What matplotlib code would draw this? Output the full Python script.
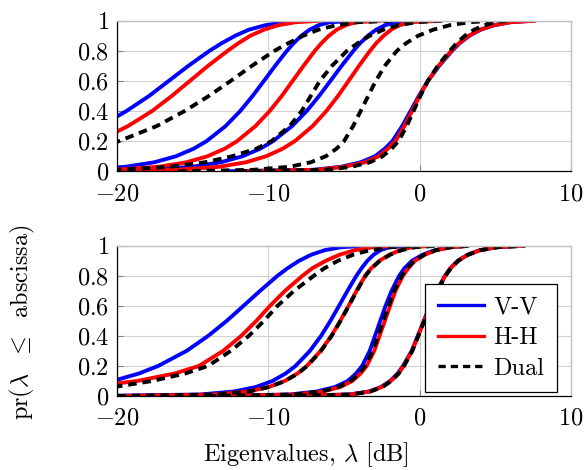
import matplotlib
matplotlib.use("Agg")
import matplotlib.pyplot as plt
from matplotlib.lines import Line2D

plt.rcParams['font.family'] = ['serif']
plt.rcParams['font.serif'] = ['cmr10', 'DejaVu Serif']
plt.rcParams['mathtext.fontset'] = 'cm'
plt.rcParams['axes.formatter.use_mathtext'] = True

# cumulative probability levels (ordinate)
P = [0.0, 0.01, 0.03, 0.06, 0.1, 0.15, 0.2, 0.3, 0.4, 0.5, 0.6, 0.7, 0.8, 0.85, 0.9, 0.94, 0.97, 0.99, 1.0]

# ---- top panel: eigenvalue (dB) reached at each probability level ----
top_vv = [
    [-45, -38.2, -32.9, -29.5, -26.9, -24.9, -23.4, -21.1, -19.4, -17.9, -16.6, -15.3, -13.9, -13.1, -12.2, -11.3, -10.2, -8.9, -7.5],
    [-30, -22.45, -19.46, -17.55, -16.12, -14.95, -14.1, -12.84, -11.87, -11.05, -10.3, -9.56, -8.78, -8.34, -7.82, -7.28, -6.68, -5.95, -4.0],
    [-26, -18.05, -15.06, -13.15, -11.72, -10.55, -9.7, -8.44, -7.47, -6.65, -5.9, -5.16, -4.38, -3.94, -3.42, -2.88, -2.28, -1.55, 0.3],
    [-13, -7.0, -5.2, -3.9, -2.95, -2.3, -1.8, -1.15, -0.6, -0.05, 0.55, 1.3, 2.15, 2.65, 3.3, 4.05, 4.95, 6.0, 7.6],
]
top_hh = [
    [-42, -34.8, -30.0, -26.9, -24.6, -22.7, -21.3, -19.3, -17.7, -16.4, -15.2, -14.0, -12.7, -12.0, -11.2, -10.3, -9.35, -8.2, -6.5],
    [-28, -20.16, -17.27, -15.42, -14.03, -12.9, -12.08, -10.86, -9.92, -9.12, -8.4, -7.68, -6.93, -6.5, -6.0, -5.48, -4.9, -4.19, -2.5],
    [-24, -16.07, -13.27, -11.49, -10.15, -9.06, -8.26, -7.08, -6.17, -5.4, -4.7, -4.01, -3.28, -2.87, -2.38, -1.88, -1.32, -0.63, 1.5],
    [-12, -6.8, -5.0, -3.6, -2.7, -2.1, -1.6, -1.0, -0.5, 0.0, 0.55, 1.25, 2.1, 2.6, 3.25, 4.0, 4.9, 6.0, 7.7],
]
top_dual = [
    [-44, -36.0, -30.2, -26.5, -23.8, -21.5, -19.9, -17.4, -15.55, -13.95, -12.5, -11.1, -9.6, -8.7, -7.7, -6.7, -5.5, -4.1, -1.5],
    [-26, -20.0, -16.5, -14.2, -12.4, -10.8, -9.8, -8.6, -7.8, -7.2, -6.6, -5.8, -4.8, -4.1, -3.3, -2.4, -1.4, -0.2, 1.5],
    [-16, -11.0, -8.6, -7.2, -6.2, -5.5, -5.0, -4.4, -3.9, -3.4, -2.9, -2.3, -1.5, -0.9, -0.1, 0.9, 2.0, 3.3, 5.0],
    [-12, -6.2, -4.5, -3.3, -2.45, -1.85, -1.4, -0.85, -0.4, 0.05, 0.55, 1.2, 2.0, 2.45, 3.0, 3.6, 4.3, 5.0, 5.8],
]

# ---- bottom panel ----
bot_vv = [
    [-40, -29.7, -25.25, -22.4, -20.3, -18.56, -17.3, -15.42, -13.99, -12.76, -11.65, -10.55, -9.4, -8.74, -7.97, -7.17, -6.29, -5.2, -3.5],
    [-22, -14.54, -12.28, -10.83, -9.74, -8.86, -8.21, -7.26, -6.52, -5.9, -5.33, -4.77, -4.18, -3.84, -3.45, -3.04, -2.59, -2.03, -0.3],
    [-14, -8.6, -6.8, -5.6, -4.75, -4.2, -3.8, -3.3, -2.95, -2.6, -2.25, -1.85, -1.35, -1.0, -0.5, 0.2, 1.0, 2.0, 3.2],
    [-9, -4.65, -3.35, -2.55, -1.95, -1.45, -1.1, -0.52, -0.12, 0.28, 0.68, 1.13, 1.68, 2.03, 2.53, 3.18, 3.98, 5.1, 6.9],
]
bot_hh = [
    [-40, -32.0, -26.5, -22.0, -18.7, -16.2, -14.6, -13.0, -11.8, -10.8, -9.9, -8.9, -7.75, -7.1, -6.2, -5.3, -4.3, -3.1, -1.5],
    [-20, -13.52, -11.35, -9.97, -8.93, -8.08, -7.46, -6.55, -5.84, -5.25, -4.7, -4.17, -3.6, -3.2, -2.65, -2.0, -1.3, -0.5, 0.9],
    [-14, -8.2, -6.4, -5.25, -4.45, -3.9, -3.5, -3.0, -2.65, -2.3, -1.95, -1.6, -1.1, -0.75, -0.3, 0.35, 1.1, 2.1, 3.3],
    [-9, -4.6, -3.3, -2.5, -1.9, -1.4, -1.05, -0.5, -0.1, 0.3, 0.7, 1.15, 1.7, 2.05, 2.55, 3.2, 4.0, 5.1, 6.9],
]
bot_dual = [
    [-40, -31.0, -25.0, -20.2, -17.7, -15.5, -14.0, -12.5, -11.3, -10.3, -9.4, -8.3, -7.0, -6.3, -5.4, -4.4, -3.3, -1.9, -0.2],
    [-20, -13.5, -11.3, -9.95, -8.9, -8.05, -7.43, -6.52, -5.82, -5.23, -4.68, -4.15, -3.58, -3.18, -2.62, -1.95, -1.2, -0.3, 1.2],
    [-14, -8.3, -6.5, -5.35, -4.55, -4.0, -3.6, -3.1, -2.75, -2.4, -2.05, -1.68, -1.18, -0.82, -0.35, 0.3, 1.05, 2.05, 3.4],
    [-9, -4.55, -3.25, -2.45, -1.87, -1.38, -1.03, -0.48, -0.08, 0.32, 0.72, 1.17, 1.72, 2.07, 2.57, 3.22, 4.02, 5.15, 7.0],
]

xticks = [-20, -10, 0, 10]
xticklabels = ['$-20$', '$-10$', '$0$', '$10$']
yticks = [0, 0.2, 0.4, 0.6, 0.8, 1.0]
yticklabels = ['$0$', '$0.2$', '$0.4$', '$0.6$', '$0.8$', '$1$']
legend_labels = ['V-V', 'H-H', 'Dual']

BLUE = (0, 0, 1)
RED = (1, 0, 0)
FS = 17.5
LW = 2.8
DASH = (2.2, 1.5)

fig = plt.figure(figsize=(5.86, 4.70), dpi=100)
ax1 = fig.add_axes([0.2002, 0.6355, 0.7737, 0.3205])
ax2 = fig.add_axes([0.2002, 0.1574, 0.7737, 0.3198])


def style(ax):
    ax.set_xlim(-20, 10)
    ax.set_ylim(0, 1)
    ax.set_xticks(xticks, xticklabels)
    ax.set_yticks(yticks, yticklabels)
    ax.tick_params(direction='in', length=4, width=0.8, color='0.5',
                   labelsize=FS)
    ax.tick_params(axis='x', pad=8.5)
    ax.tick_params(axis='y', pad=6)
    ax.grid(True, color='0.82', lw=0.8)
    ax.set_axisbelow(True)
    for s in ('left', 'bottom'):
        ax.spines[s].set_color('black')
        ax.spines[s].set_linewidth(0.9)
    for s in ('top', 'right'):
        ax.spines[s].set_color('0.75')
        ax.spines[s].set_linewidth(1.0)


def draw(ax, vv, hh, dual):
    for xs in vv:
        ax.plot(xs, P, color=BLUE, lw=LW, solid_capstyle='butt')
    for xs in hh:
        ax.plot(xs, P, color=RED, lw=LW, solid_capstyle='butt')
    for xs in dual:
        ax.plot(xs, P, color='black', lw=LW, dashes=DASH)


style(ax1)
style(ax2)
draw(ax1, top_vv, top_hh, top_dual)
draw(ax2, bot_vv, bot_hh, bot_dual)

handles = [Line2D([], [], color=BLUE, lw=LW * 0.85),
           Line2D([], [], color=RED, lw=LW * 0.85),
           Line2D([], [], color='black', lw=LW * 0.85, dashes=DASH)]
leg = ax2.legend(handles, legend_labels, loc='lower right',
                 bbox_to_anchor=(0.969, 0.027), fontsize=FS, frameon=True,
                 fancybox=False, framealpha=1, edgecolor='black',
                 handlelength=1.9, handletextpad=0.4, borderpad=0.5,
                 labelspacing=0.35, borderaxespad=0.0)
leg.get_frame().set_linewidth(0.9)

fig.text(22 / 586, 1 - 322 / 470,
         r'$\mathrm{pr}(\lambda\ \ \leq\ \ \mathrm{abscissa})$',
         rotation=90, ha='center', va='center', fontsize=FS)
fig.text(306 / 586, 1 - 455 / 470, r'Eigenvalues, $\lambda$ [dB]',
         ha='center', va='center', fontsize=FS)

fig.savefig('out.png', dpi=100)
